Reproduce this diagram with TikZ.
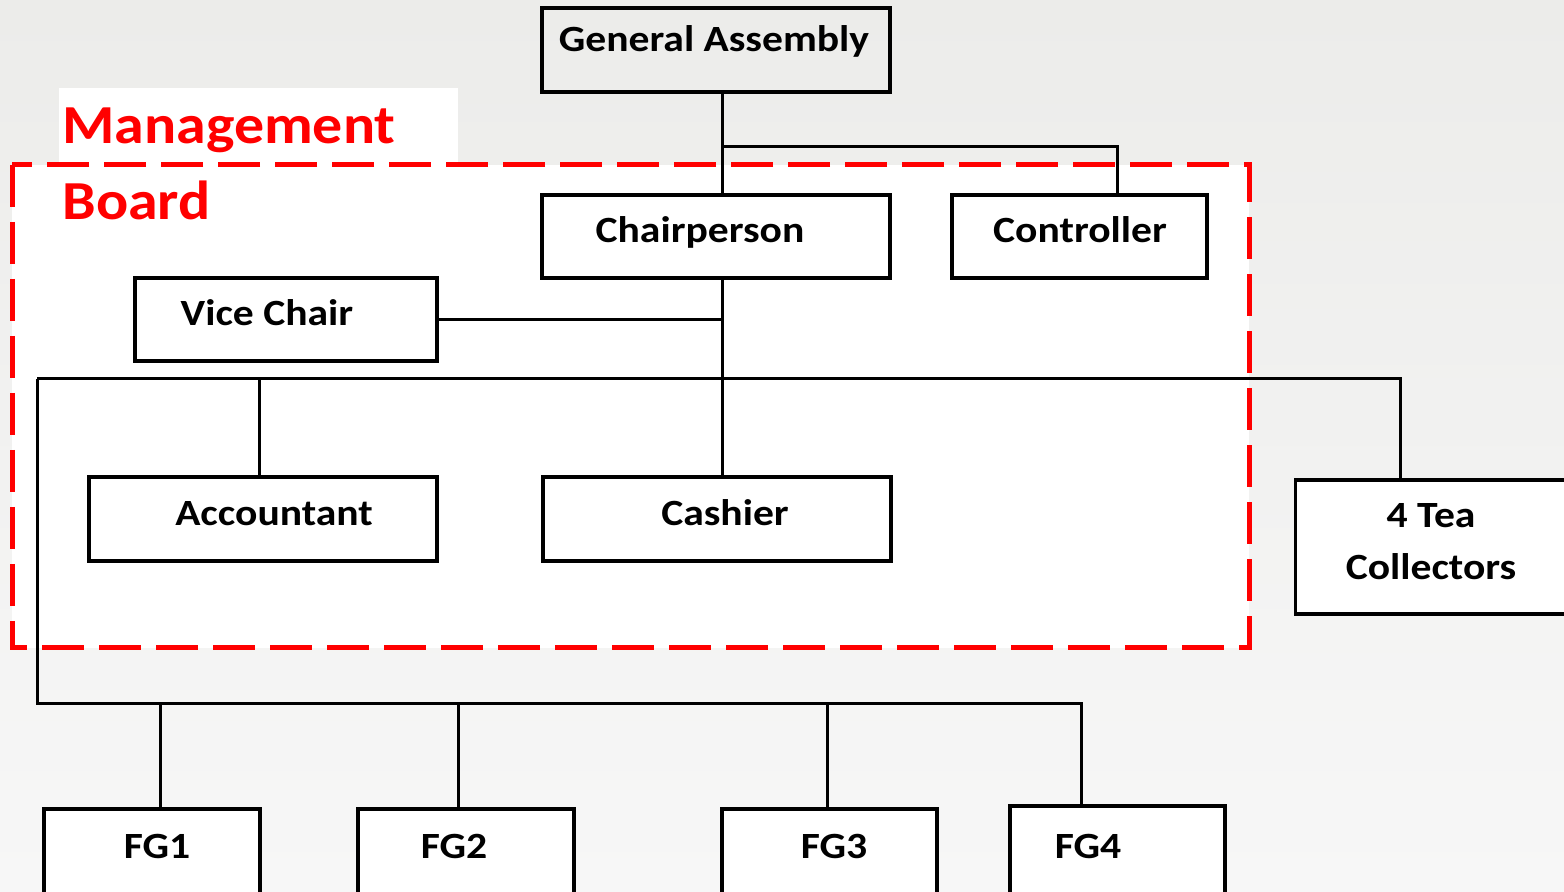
\documentclass[tikz,border=0pt]{standalone}
\usepackage{graphicx}
\usepackage{fontspec}
\setmainfont{Carlito}
\definecolor{bgtop}{RGB}{236,236,234}
\definecolor{bgbot}{RGB}{247,247,247}
\definecolor{mgred}{RGB}{255,0,0}
\newcommand{\boxtx}[1]{\scalebox{1.125}[1]{#1}}
\newcommand{\redtx}[1]{\scalebox{1.09}[1]{#1}}
\begin{document}
\begin{tikzpicture}[x=0.5pt,y=-0.5pt,
  conn/.style={line width=1.5pt},
  box/.style={draw, line width=1.6pt, fill=white, inner sep=0pt},
  txt/.style={inner sep=0pt, text height=11.6pt, text depth=0pt,
    font=\fontsize{18.5}{22}\selectfont\bfseries},
  redtxt/.style={inner sep=0pt, anchor=base west, text=mgred,
    font=\fontsize{27.5}{33}\selectfont\bfseries}]
\useasboundingbox (0,0) rectangle (1564,892);
\clip (0,0) rectangle (1564,892);
\shade[top color=bgtop, bottom color=bgbot] (0,0) rectangle (1564,892);
\fill[white] (12,165) rectangle (1249,648);
\fill[white] (59,88) rectangle (458,165);
\draw[mgred, line width=2.5pt, dash pattern=on 21pt off 7.5pt] (12,165) rectangle (1249,648);
\node[redtxt] (mg1) at (62,144) {\redtx{Management}};
\node[redtxt] (mg2) at (62,220) {\redtx{Board}};
% boxes
\node[box, fill=none, minimum width=174pt, minimum height=42pt] (ga) at (716,50) {};
\node[box, minimum width=174pt, minimum height=41.5pt] (cp) at (716,236.5) {};
\node[box, minimum width=127.5pt, minimum height=41.5pt] (ct) at (1079.5,236.5) {};
\node[box, minimum width=151pt, minimum height=41.5pt] (vc) at (286,319.5) {};
\node[box, minimum width=174pt, minimum height=42pt] (ac) at (263,519) {};
\node[box, minimum width=174pt, minimum height=42pt] (ca) at (717,519) {};
\node[box, minimum width=140pt, minimum height=67pt] (tc) at (1435.5,547) {};
\node[box, minimum width=108pt, minimum height=46pt] (fg1) at (152,855) {};
\node[box, minimum width=108pt, minimum height=46pt] (fg2) at (466,855) {};
\node[box, minimum width=107.5pt, minimum height=46pt] (fg3) at (829.5,855) {};
\node[box, minimum width=107.5pt, minimum height=47pt] (fg4) at (1117.5,853) {};
% texts
\node[txt] (ga-t) at (714,40) {\boxtx{General Assembly}};
\node[txt] (cp-t) at (700,231) {\boxtx{Chairperson}};
\node[txt] (ct-t) at (1080,231) {\boxtx{Controller}};
\node[txt] (vc-t) at (267,314) {\boxtx{Vice Chair}};
\node[txt] (ac-t) at (274,514) {\boxtx{Accountant}};
\node[txt] (ca-t) at (725,514) {\boxtx{Cashier}};
\node[txt] (tc-t1) at (1431,516) {\boxtx{4 Tea}};
\node[txt] (tc-t2) at (1431,568) {\boxtx{Collectors}};
\node[txt] (fg1-t) at (157,847) {\boxtx{FG1}};
\node[txt] (fg2-t) at (454,847) {\boxtx{FG2}};
\node[txt] (fg3-t) at (834,847) {\boxtx{FG3}};
\node[txt] (fg4-t) at (1088,847) {\boxtx{FG4}};
% connectors
\coordinate (j1) at (722,147);
\coordinate (j2) at (1117,147);
\draw[conn] (ga.south -| j1) -- (cp.north -| j1);
\draw[conn] (j1) -- (j2) -- (j2 |- ct.north);
\draw[conn] (cp.south -| j1) -- (ca.north -| j1);
\draw[conn] (vc.east) -- (vc.east -| j1);
\coordinate (b1) at (37,379);
\coordinate (b2) at (1400,379);
\coordinate (b3) at (259,379);
\draw[conn] (b1) -- (b2) -- (b2 |- tc.north);
\draw[conn] (b3) -- (b3 |- ac.north);
\coordinate (c1) at (37,704);
\coordinate (c2) at (1081,704);
\coordinate (c3) at (160,704);
\coordinate (c4) at (458,704);
\coordinate (c5) at (827,704);
\draw[conn] (b1) -- (c1) -- (c2) -- (c2 |- fg4.north);
\draw[conn] (c3) -- (c3 |- fg1.north);
\draw[conn] (c4) -- (c4 |- fg2.north);
\draw[conn] (c5) -- (c5 |- fg3.north);
\end{tikzpicture}
\end{document}
